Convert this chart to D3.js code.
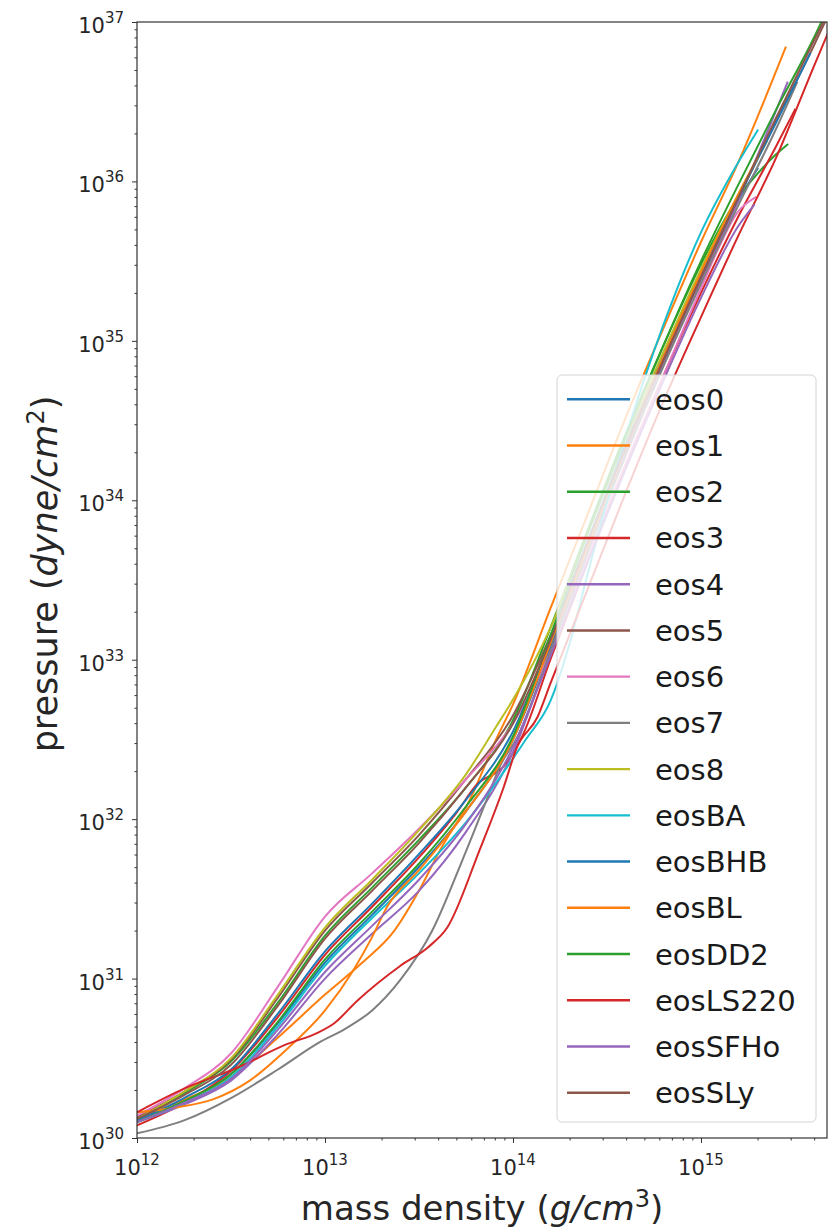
<!DOCTYPE html>
<html>
<head>
<meta charset="utf-8">
<script src="https://cdn.jsdelivr.net/npm/d3@7"></script>
<style>
  html, body { margin: 0; padding: 0; background: #fff; }
  svg { display: block; font-family: "DejaVu Sans", sans-serif; }
</style>
</head>
<body>
<svg id="chart" width="828" height="1228"></svg>
<script>
// Equation-of-state curves: [mass density g/cm^3, pressure dyne/cm^2]
const eos0 = [[1e12,1.26e30],[1.78e12,1.70e30],[3.16e12,2.51e30],[5.62e12,5.25e30],[1e13,1.26e31],[1.78e13,2.51e31],[3.16e13,5.01e31],[5.62e13,1.12e32],[1e14,3.16e32],[1.58e14,1.20e33],[2.51e14,5.25e33],[3.98e14,2.14e34],[6.31e14,7.59e34],[1e15,2.51e35],[1.58e15,7.59e35],[2.0e15,1.20e36]];
const eos1 = [[1e12,1.32e30],[1.78e12,1.74e30],[3.16e12,2.40e30],[5.62e12,4.27e30],[1e13,7.94e30],[1.58e13,1.26e31],[2.34e13,2.00e31],[3.16e13,3.55e31],[4.07e13,6.31e31],[5.89e13,1.32e32],[8.13e13,3.16e32],[1e14,5.25e32],[1.58e14,2.09e33],[2.51e14,8.32e33],[3.98e14,3.31e34],[6.31e14,1.20e35],[1e15,4.17e35],[1.58e15,1.32e36],[2.82e15,6.92e36]];
const eos2 = [[1e12,1.32e30],[1.78e12,1.91e30],[3.16e12,3.02e30],[5.62e12,7.08e30],[1e13,1.86e31],[1.78e13,3.72e31],[3.16e13,7.41e31],[5.62e13,1.58e32],[1e14,4.17e32],[1.58e14,1.58e33],[2.51e14,6.61e33],[3.98e14,2.63e34],[6.31e14,9.33e34],[1e15,3.02e35],[1.58e15,7.94e35],[2.0e15,1.12e36],[2.51e15,1.48e36],[2.88e15,1.70e36]];
const eos3 = [[1e12,1.20e30],[1.78e12,1.66e30],[3.16e12,2.63e30],[5.62e12,5.75e30],[1e13,1.41e31],[1.78e13,2.82e31],[3.16e13,5.75e31],[5.01e13,1.10e32],[6.46e13,1.66e32],[8.91e13,2.14e32],[1.12e14,3.31e32],[1.58e14,1.0e33],[2.51e14,4.17e33],[3.98e14,1.66e34],[6.31e14,6.03e34],[1e15,2.0e35],[1.58e15,6.03e35],[2.51e15,1.66e36],[3.16e15,2.82e36]];
const eos4 = [[1e12,1.26e30],[1.78e12,1.62e30],[3.16e12,2.29e30],[5.62e12,4.47e30],[1e13,1.0e31],[1.78e13,1.91e31],[3.16e13,3.55e31],[5.62e13,8.32e31],[1e14,2.63e32],[1.58e14,1.12e33],[2.51e14,5.01e33],[3.98e14,2.0e34],[6.31e14,7.24e34],[1e15,2.40e35],[1.58e15,7.59e35],[2.88e15,4.17e36]];
const eos5 = [[1e12,1.35e30],[1.78e12,1.95e30],[3.16e12,3.09e30],[5.62e12,7.59e30],[1e13,2.0e31],[1.78e13,3.98e31],[3.16e13,7.94e31],[5.62e13,1.78e32],[1e14,4.47e32],[1.58e14,1.41e33],[2.51e14,5.62e33],[3.98e14,2.14e34],[6.31e14,7.59e34],[1e15,2.51e35],[1.58e15,7.94e35],[2.51e15,2.40e36],[3.98e15,7.08e36],[4.57e15,1e37]];
const eos6 = [[1e12,1.38e30],[1.78e12,2.04e30],[3.16e12,3.39e30],[5.62e12,8.91e30],[1e13,2.45e31],[1.78e13,4.57e31],[3.16e13,8.71e31],[5.62e13,1.78e32],[1e14,3.98e32],[1.58e14,1.12e33],[2.51e14,4.47e33],[3.98e14,1.70e34],[6.31e14,6.03e34],[1e15,2.14e35],[1.26e15,3.98e35],[1.55e15,6.31e35],[1.95e15,7.94e35]];
const eos7 = [[1e12,1.07e30],[1.78e12,1.29e30],[3.16e12,1.78e30],[5.62e12,2.69e30],[9.33e12,3.98e30],[1.26e13,4.79e30],[1.78e13,6.31e30],[2.51e13,9.77e30],[3.72e13,2.0e31],[5.37e13,5.50e31],[7.24e13,1.32e32],[8.51e13,2.14e32],[1.05e14,3.24e32],[1.58e14,1.12e33],[2.51e14,4.79e33],[3.98e14,1.91e34],[6.31e14,6.92e34],[1e15,2.29e35],[1.58e15,7.08e35],[2.51e15,2.14e36],[3.24e15,4.17e36]];
const eos8 = [[1e12,1.32e30],[1.78e12,1.95e30],[3.16e12,3.16e30],[5.62e12,7.94e30],[1e13,2.09e31],[1.78e13,4.17e31],[3.16e13,8.51e31],[5.62e13,1.91e32],[8.13e13,3.80e32],[1e14,5.62e32],[1.58e14,1.58e33],[2.51e14,6.31e33],[3.98e14,2.40e34],[6.31e14,8.51e34],[1e15,2.82e35],[1.58e15,8.32e35],[2.24e15,1.78e36]];
const eosBA = [[1e12,1.26e30],[1.78e12,1.66e30],[3.16e12,2.40e30],[5.62e12,5.01e30],[1e13,1.20e31],[1.78e13,2.40e31],[3.16e13,4.57e31],[5.62e13,9.55e31],[1e14,2.40e32],[1.17e14,3.16e32],[1.58e14,5.50e32],[2.0e14,1.26e33],[2.51e14,3.55e33],[3.98e14,2.51e34],[6.31e14,1.26e35],[1e15,4.79e35],[1.58e15,1.32e36],[2.0e15,2.09e36]];
const eosBHB = [[1e12,1.29e30],[1.78e12,1.78e30],[3.16e12,2.69e30],[5.62e12,6.03e30],[1e13,1.48e31],[1.78e13,2.95e31],[3.16e13,6.03e31],[5.62e13,1.32e32],[1e14,3.55e32],[1.58e14,1.32e33],[2.51e14,5.62e33],[3.98e14,2.24e34],[6.31e14,7.94e34],[1e15,2.63e35],[1.58e15,7.94e35],[2.51e15,2.34e36],[3.80e15,6.31e36]];
const eosBL = [[1e12,1.45e30],[1.58e12,1.55e30],[2.51e12,1.74e30],[3.98e12,2.29e30],[6.31e12,3.63e30],[1e13,6.31e30],[1.41e13,1.12e31],[1.78e13,1.82e31],[2.14e13,2.82e31],[3.16e13,4.79e31],[5.62e13,1.12e32],[1e14,3.16e32],[1.58e14,1.26e33],[2.51e14,5.25e33],[3.98e14,2.14e34],[6.31e14,7.94e34],[1e15,2.69e35],[1.58e15,8.32e35],[2.0e15,1.41e36]];
const eosDD2 = [[1e12,1.26e30],[1.78e12,1.70e30],[3.16e12,2.51e30],[5.62e12,5.37e30],[1e13,1.32e31],[1.78e13,2.63e31],[3.16e13,5.25e31],[5.62e13,1.20e32],[1e14,3.31e32],[1.58e14,1.41e33],[2.51e14,6.31e33],[3.98e14,2.51e34],[6.31e14,9.33e34],[1e15,3.16e35],[1.58e15,9.55e35],[2.51e15,2.82e36],[3.98e15,7.94e36],[4.37e15,1e37]];
const eosLS220 = [[1e12,1.45e30],[1.78e12,2.04e30],[3.39e12,2.75e30],[6.31e12,3.89e30],[9.12e12,4.57e30],[1.12e13,5.25e30],[1.48e13,7.24e30],[2.51e13,1.20e31],[3.55e13,1.58e31],[4.47e13,2.09e31],[6.61e13,6.31e31],[8.91e13,1.58e32],[1.05e14,2.82e32],[1.35e14,4.37e32],[1.58e14,7.08e32],[2.51e14,2.82e33],[3.98e14,1.12e34],[6.31e14,4.17e34],[1e15,1.41e35],[1.58e15,4.57e35],[2.51e15,1.41e36],[3.98e15,5.25e36],[5.01e15,1e37]];
const eosSFHo = [[1e12,1.26e30],[1.78e12,1.66e30],[3.16e12,2.34e30],[5.62e12,4.79e30],[1e13,1.10e31],[1.78e13,2.14e31],[3.16e13,4.17e31],[5.62e13,9.33e31],[1e14,2.82e32],[1.58e14,1.05e33],[2.51e14,4.17e33],[3.98e14,1.58e34],[6.31e14,5.62e34],[1e15,1.86e35],[1.58e15,5.25e35],[1.91e15,7.08e35]];
const eosSLy = [[1e12,1.32e30],[1.78e12,1.86e30],[3.16e12,2.88e30],[5.62e12,6.76e30],[1e13,1.78e31],[1.78e13,3.55e31],[3.16e13,7.08e31],[5.62e13,1.58e32],[1e14,3.98e32],[1.58e14,1.32e33],[2.51e14,5.50e33],[3.98e14,2.14e34],[6.31e14,7.59e34],[1e15,2.51e35],[1.58e15,7.94e35],[2.51e15,2.51e36],[3.98e15,7.59e36],[4.47e15,1e37]];

const eosNames = ["eos0","eos1","eos2","eos3","eos4","eos5","eos6","eos7","eos8",
                  "eosBA","eosBHB","eosBL","eosDD2","eosLS220","eosSFHo","eosSLy"];
const eosCurves = [eos0, eos1, eos2, eos3, eos4, eos5, eos6, eos7, eos8,
                   eosBA, eosBHB, eosBL, eosDD2, eosLS220, eosSFHo, eosSLy];

// Axis ranges and major tick exponents
const densityRange = [1e12, 4.68e15];
const pressureRange = [1e30, 1e37];
const densityExponents = [12, 13, 14, 15];
const pressureExponents = [30, 31, 32, 33, 34, 35, 36, 37];

const palette = ["#1f77b4","#ff7f0e","#2ca02c","#d62728","#9467bd",
                 "#8c564b","#e377c2","#7f7f7f","#bcbd22","#17becf"];

const margin = { left: 137, right: 827, top: 22, bottom: 1138 };
const svg = d3.select("#chart");

const x = d3.scaleLog().domain(densityRange).range([margin.left, margin.right]);
const y = d3.scaleLog().domain(pressureRange).range([margin.bottom, margin.top]);

svg.append("defs").append("clipPath").attr("id", "plot-clip")
  .append("rect")
  .attr("x", margin.left).attr("y", margin.top)
  .attr("width", margin.right - margin.left)
  .attr("height", margin.bottom - margin.top);

// Minor ticks (2..9 within each decade)
function minorTicks(lo, hi) {
  const out = [];
  for (let e = Math.floor(Math.log10(lo)); e <= Math.ceil(Math.log10(hi)); e++) {
    for (let m = 2; m <= 9; m++) {
      const v = m * Math.pow(10, e);
      if (v > lo && v < hi) out.push(v);
    }
  }
  return out;
}

const tickColor = "#333";

// x axis
const gx = svg.append("g").attr("transform", `translate(0,${margin.bottom})`);
gx.call(d3.axisBottom(x).tickValues(minorTicks(...densityRange)).tickSize(2.5).tickFormat(""));
const gxMajor = svg.append("g").attr("transform", `translate(0,${margin.bottom})`);
gxMajor.call(d3.axisBottom(x).tickValues(densityExponents.map(e => Math.pow(10, e))).tickSize(5).tickFormat(""));

// y axis
const gy = svg.append("g").attr("transform", `translate(${margin.left},0)`);
gy.call(d3.axisLeft(y).tickValues(minorTicks(...pressureRange)).tickSize(2.5).tickFormat(""));
const gyMajor = svg.append("g").attr("transform", `translate(${margin.left},0)`);
gyMajor.call(d3.axisLeft(y).tickValues(pressureExponents.map(e => Math.pow(10, e))).tickSize(5).tickFormat(""));

svg.selectAll(".domain").remove();
svg.selectAll(".tick line").attr("stroke", tickColor).attr("stroke-width", 1);

// tick labels as 10^n
densityExponents.forEach(e => {
  const t = svg.append("text")
    .attr("x", x(Math.pow(10, e)))
    .attr("y", margin.bottom + 37)
    .attr("text-anchor", "middle")
    .attr("fill", "#262626")
    .style("font-size", "21px");
  t.append("tspan").text("10");
  t.append("tspan").attr("dy", -10).style("font-size", "15px").text(e);
});
pressureExponents.forEach(e => {
  const t = svg.append("text")
    .attr("x", margin.left - 13)
    .attr("y", y(Math.pow(10, e)) + 11)
    .attr("text-anchor", "end")
    .attr("fill", "#262626")
    .style("font-size", "21px");
  t.append("tspan").text("10");
  t.append("tspan").attr("dy", -10).style("font-size", "15px").text(e);
});

// curves
const line = d3.line()
  .x(d => x(d[0]))
  .y(d => y(d[1]))
  .curve(d3.curveMonotoneX);

const plot = svg.append("g").attr("clip-path", "url(#plot-clip)");
eosCurves.forEach((c, i) => {
  plot.append("path")
    .datum(c)
    .attr("d", line)
    .attr("fill", "none")
    .attr("stroke", palette[i % palette.length])
    .attr("stroke-width", 2)
    .attr("stroke-linejoin", "round")
    .attr("stroke-linecap", "square");
});

// frame
svg.append("rect")
  .attr("x", margin.left).attr("y", margin.top)
  .attr("width", margin.right - margin.left)
  .attr("height", margin.bottom - margin.top)
  .attr("fill", "none").attr("stroke", "#333").attr("stroke-width", 1.2);

// axis titles
const xt = svg.append("text")
  .attr("x", (margin.left + margin.right) / 2)
  .attr("y", 1220)
  .attr("text-anchor", "middle")
  .attr("fill", "#262626")
  .style("font-size", "34px");
xt.append("tspan").text("mass density (");
xt.append("tspan").style("font-style", "italic").text("g/cm");
xt.append("tspan").attr("dy", -13).style("font-size", "24px").text("3");
xt.append("tspan").attr("dy", 13).text(")");

const yt = svg.append("text")
  .attr("transform", `translate(57,574) rotate(-90)`)
  .attr("text-anchor", "middle")
  .attr("fill", "#262626")
  .style("font-size", "35px");
yt.append("tspan").text("pressure (");
yt.append("tspan").style("font-style", "italic").text("dyne/cm");
yt.append("tspan").attr("dy", -13).style("font-size", "24px").text("2");
yt.append("tspan").attr("dy", 13).text(")");

// legend
const legend = svg.append("g");
const lgX = 557, lgY = 375, lgW = 259, lgH = 747;
legend.append("rect")
  .attr("x", lgX).attr("y", lgY).attr("width", lgW).attr("height", lgH)
  .attr("rx", 5).attr("ry", 5)
  .attr("fill", "#fff").attr("fill-opacity", 0.8)
  .attr("stroke", "#d4d4d4").attr("stroke-width", 1);

const rowY = d3.scalePoint().domain(eosNames).range([399.3, 1092.7]);
eosNames.forEach((name, i) => {
  const cy = rowY(name);
  legend.append("line")
    .attr("x1", 567).attr("x2", 630)
    .attr("y1", cy).attr("y2", cy)
    .attr("stroke", palette[i % palette.length])
    .attr("stroke-width", 2.4);
  legend.append("text")
    .attr("x", 655).attr("y", cy + 10.5)
    .attr("fill", "#1a1a1a")
    .style("font-size", "29px")
    .text(name);
});
</script>
</body>
</html>
